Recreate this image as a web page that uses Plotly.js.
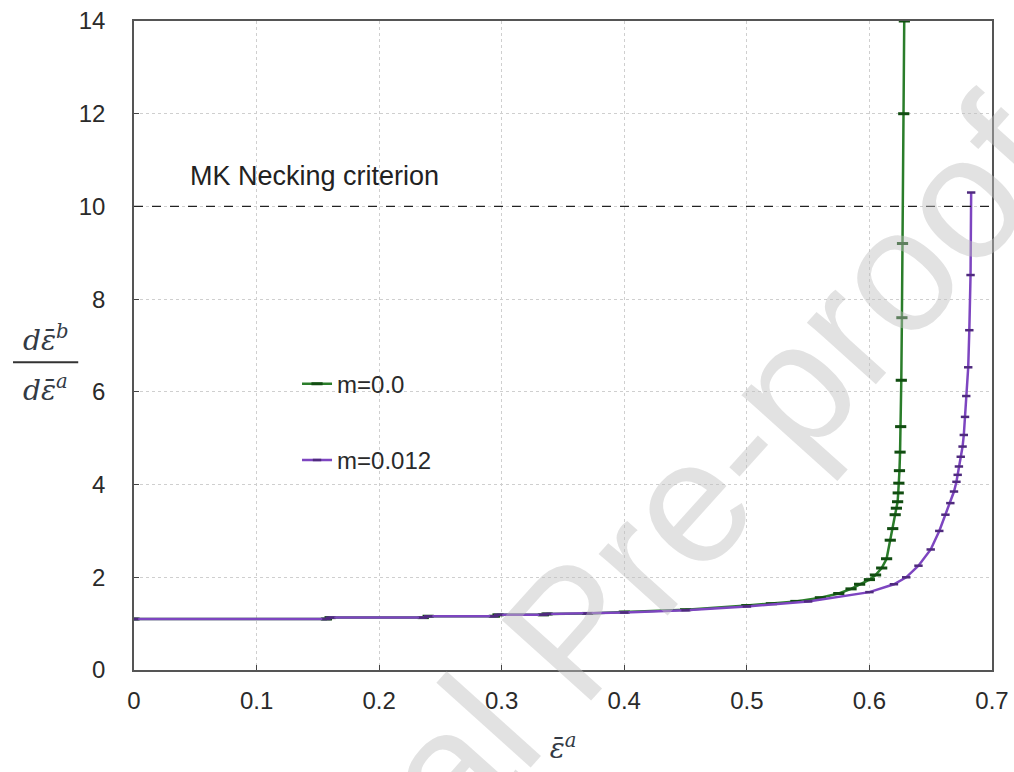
<!DOCTYPE html>
<html>
<head>
<meta charset="utf-8">
<script src="https://cdn.plot.ly/plotly-3.0.1.min.js"></script>
<style>html,body{margin:0;padding:0;background:#fff;}#chart{width:1014px;height:772px;}</style>
</head>
<body>
<div id="chart"></div>
<script>
// m = 0.0 series
const xM0 = [0, 0.157, 0.16, 0.236, 0.24, 0.294, 0.297, 0.334, 0.337, 0.37, 0.4, 0.45, 0.5, 0.52, 0.54, 0.56, 0.575, 0.585, 0.592, 0.6, 0.605, 0.61, 0.614, 0.617, 0.619, 0.621, 0.622, 0.623, 0.6235, 0.624, 0.6245, 0.625, 0.6255, 0.626, 0.6265, 0.627, 0.628, 0.6285, 0.629];
const yM0 = [1.10, 1.10, 1.13, 1.13, 1.16, 1.16, 1.19, 1.19, 1.21, 1.22, 1.25, 1.30, 1.39, 1.43, 1.48, 1.56, 1.65, 1.75, 1.85, 1.95, 2.05, 2.2, 2.4, 2.8, 3.05, 3.35, 3.49, 3.63, 3.82, 4.03, 4.3, 4.7, 5.25, 6.25, 7.6, 9.2, 12.0, 14.0, 16.0];
// m = 0.012 series
const xM12 = [0, 0.157, 0.16, 0.236, 0.24, 0.294, 0.297, 0.334, 0.337, 0.37, 0.4, 0.45, 0.5, 0.55, 0.6, 0.62, 0.63, 0.64, 0.65, 0.657, 0.662, 0.666, 0.669, 0.671, 0.672, 0.673, 0.6745, 0.676, 0.677, 0.678, 0.679, 0.6806, 0.6815, 0.6825, 0.683];
const yM12 = [1.10, 1.10, 1.13, 1.13, 1.16, 1.16, 1.19, 1.19, 1.21, 1.22, 1.24, 1.29, 1.37, 1.48, 1.68, 1.85, 2.0, 2.25, 2.6, 3.0, 3.35, 3.6, 3.85, 4.06, 4.21, 4.39, 4.6, 4.82, 5.07, 5.46, 5.91, 6.53, 7.33, 8.52, 10.3];
const seriesNames = ["m=0.0", "m=0.012"];
const criterion = 10;
const criterionLabel = "MK Necking criterion";
const xTicks = [0, 0.1, 0.2, 0.3, 0.4, 0.5, 0.6, 0.7];
const yTicks = [0, 2, 4, 6, 8, 10, 12, 14];

const sans = "Liberation Sans, Arial, sans-serif";
const tickFont = {family: sans, size: 24, color: "#2a2a2a"};
const mathFont = {family: "DejaVu Serif, serif", size: 28, color: "#333a44"};

const traces = [
  {x: xM0, y: yM0, name: seriesNames[0], mode: "lines+markers", legendgroup: "a",
   line: {color: "#2a7d2a", width: 2.5},
   marker: {symbol: "line-ew", size: 8, line: {color: "#114d11", width: 3}}},
  {x: xM12, y: yM12, name: seriesNames[1], mode: "lines+markers", legendgroup: "b",
   line: {color: "#7d45c0", width: 2.5},
   marker: {symbol: "line-ew", size: 6, line: {color: "#4f2a7e", width: 2.5}}}
];

const layout = {
  width: 1014, height: 772,
  margin: {l: 134, r: 22, t: 21, b: 102},
  paper_bgcolor: "#fff", plot_bgcolor: "#fff",
  showlegend: true,
  legend: {x: 0.19, y: 0.475, xanchor: "left", yanchor: "top", bgcolor: "rgba(0,0,0,0)",
           font: {family: sans, size: 24, color: "#2a2a2a"},
           tracegroupgap: 42, traceorder: "grouped"},
  xaxis: {range: [0, 0.7], tickvals: xTicks, ticktext: xTicks.map(String),
          showgrid: true, gridcolor: "#cfcfcf", griddash: "dot", gridwidth: 1,
          showline: true, linecolor: "#555", linewidth: 1.8, mirror: true,
          ticks: "inside", ticklen: 5, tickcolor: "#444", zeroline: false,
          tickfont: tickFont, ticklabelstandoff: 8,
          title: {text: "<i>ε̄<sup>a</sup></i>", font: mathFont, standoff: 26}},
  yaxis: {range: [0, 14], tickvals: yTicks, ticktext: yTicks.map(String),
          showgrid: true, gridcolor: "#cfcfcf", griddash: "dot", gridwidth: 1,
          showline: true, linecolor: "#555", linewidth: 1.8, mirror: true,
          ticks: "inside", ticklen: 5, tickcolor: "#444", zeroline: false,
          tickfont: tickFont, ticklabelstandoff: 22},
  shapes: [
    {type: "line", xref: "paper", x0: 0, x1: 1, yref: "y", y0: criterion, y1: criterion,
     line: {color: "#222", width: 1.3, dash: "dash"}},
    {type: "line", xref: "paper", x0: -0.141, x1: -0.065, yref: "paper", y0: 0.474, y1: 0.474,
     line: {color: "#333", width: 2}}
  ],
  annotations: [
    {text: criterionLabel, xref: "x", yref: "y", x: 0.044, y: 10.66, xanchor: "left", yanchor: "middle",
     showarrow: false, font: {family: sans, size: 27, color: "#222"}},
    {text: "<i>dε̄<sup>b</sup></i>", xref: "paper", yref: "paper", x: -0.103, y: 0.474, yshift: 3,
     xanchor: "center", yanchor: "bottom", showarrow: false, font: mathFont},
    {text: "<i>dε̄<sup>a</sup></i>", xref: "paper", yref: "paper", x: -0.103, y: 0.474, yshift: -6,
     xanchor: "center", yanchor: "top", showarrow: false, font: mathFont},
    {text: "Journal Pre-proof", xref: "paper", yref: "paper", x: 0.51, y: 0.06, textangle: -48,
     xanchor: "center", yanchor: "middle", showarrow: false,
     font: {family: sans, size: 175, color: "rgba(190,190,190,0.45)"}}
  ]
};

Plotly.newPlot("chart", traces, layout, {displayModeBar: false, staticPlot: true});
</script>
</body>
</html>
